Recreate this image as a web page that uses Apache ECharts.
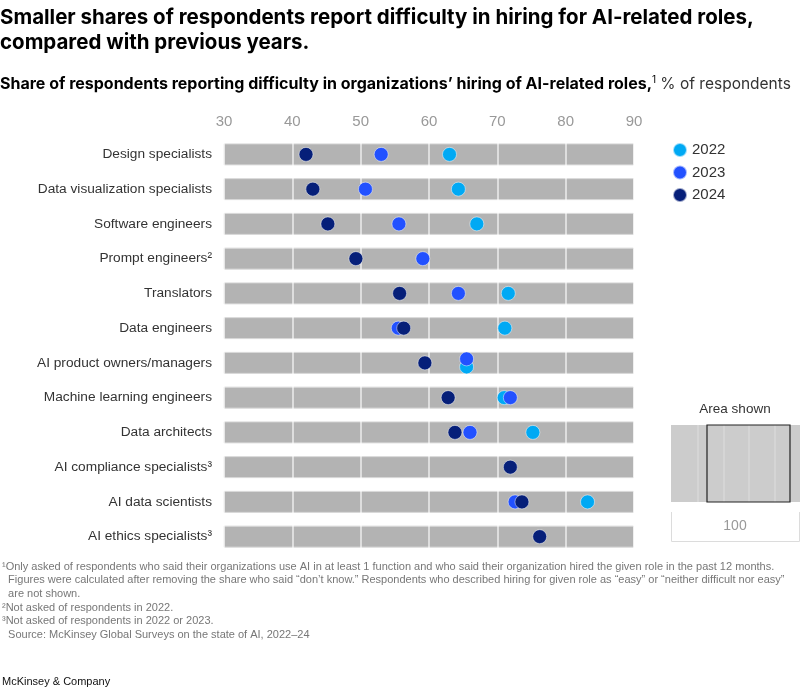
<!DOCTYPE html>
<html>
<head>
<meta charset="utf-8">
<script src="https://cdn.jsdelivr.net/npm/echarts@6/dist/echarts.min.js"></script>
<style>
  html, body { margin: 0; padding: 0; background: #fff; }
  #chart { width: 810px; height: 694px; }
</style>
</head>
<body>
<div id="chart"></div>
<script>
// 数据
const roles = [
  'Design specialists',
  'Data visualization specialists',
  'Software engineers',
  'Prompt engineers²',
  'Translators',
  'Data engineers',
  'AI product owners/managers',
  'Machine learning engineers',
  'Data architects',
  'AI compliance specialists³',
  'AI data scientists',
  'AI ethics specialists³'
];
const years = ['2022', '2023', '2024'];
const values2022 = [63, 64.3, 67, null, 71.6, 71.1, 65.5, 71, 75.2, null, 83.2, null];
const values2023 = [53, 50.7, 55.6, 59.1, 64.3, 55.5, 65.5, 71.9, 66, null, 72.6, null];
const values2024 = [42, 43, 45.2, 49.3, 55.7, 56.3, 59.4, 62.8, 63.8, 71.9, 73.6, 76.2];
const xTicks = [30, 40, 50, 60, 70, 80, 90];

var colors = ['#00a9f4', '#2251ff', '#061f79'];
// AI product owners 那一行两点重叠，上下错开一点
var nudge = { 6: { '2022': 4, '2023': -4 } };

var chartDom = document.getElementById('chart');
var myChart = echarts.init(chartDom);
var font = 'Liberation Sans, Arial, sans-serif';
var headFont = 'Inter, Liberation Sans, sans-serif';

function dots(vals, year) {
  let res = [];
  vals.forEach(function (v, i) {
    if (v == null) return;
    let item = { value: [v, i] };
    if (nudge[i] && nudge[i][year] != null) item.symbolOffset = [0, nudge[i][year]];
    res.push(item);
  });
  return res;
}

var footnotes = [
  '¹Only asked of respondents who said their organizations use AI in at least 1 function and who said their organization hired the given role in the past 12 months.',
  '  Figures were calculated after removing the share who said “don’t know.” Respondents who described hiring for given role as “easy” or “neither difficult nor easy”',
  '  are not shown.',
  '²Not asked of respondents in 2022.',
  '³Not asked of respondents in 2022 or 2023.',
  '  Source: McKinsey Global Surveys on the state of AI, 2022–24'
];

var option = {
  animation: false,
  textStyle: { fontFamily: font },
  title: [
    {
      text: 'Smaller shares of respondents report difficulty in hiring for AI-related roles,\ncompared with previous years.',
      left: 0,
      top: 5,
      padding: 0,
      textStyle: { fontSize: 20.5, fontWeight: 'bold', color: '#000', lineHeight: 25, fontFamily: headFont }
    },
    {
      text: '{b|Share of respondents reporting difficulty in organizations’ hiring of AI-related roles,}{s|1} {r|% of respondents}',
      left: 0,
      top: 75,
      padding: 0,
      textStyle: {
        fontFamily: headFont,
        rich: {
          b: { fontSize: 16, fontWeight: 'bold', color: '#000', fontFamily: headFont },
          s: { fontSize: 10, fontWeight: 'normal', color: '#000', verticalAlign: 'top', lineHeight: 14, fontFamily: headFont },
          r: { fontSize: 15.5, fontWeight: 'normal', color: '#333', fontFamily: headFont }
        }
      }
    }
  ],
  legend: {
    data: years,
    orient: 'vertical',
    left: 667,
    top: 137,
    itemWidth: 14,
    itemHeight: 14,
    itemGap: 6.5,
    icon: 'circle',
    textStyle: { fontSize: 15, color: '#333', fontFamily: font }
  },
  grid: {
    left: 224,
    right: 176,
    top: 137,
    bottom: 140,
    containLabel: false
  },
  xAxis: {
    type: 'value',
    position: 'top',
    min: 30,
    max: 90,
    interval: 10,
    z: 5,
    axisLine: { show: false },
    axisTick: { show: false },
    axisLabel: { color: '#999', fontSize: 15, margin: 8, fontFamily: font },
    splitLine: { show: true, lineStyle: { color: '#ffffff', width: 1.5, opacity: 0.75 } }
  },
  yAxis: {
    type: 'category',
    data: roles,
    inverse: true,
    axisLine: { show: false },
    axisTick: { show: false },
    axisLabel: { color: '#333', fontSize: 13.7, margin: 12, fontFamily: font }
  },
  graphic: [
    {
      type: 'text',
      left: 2,
      top: 560,
      style: {
        text: footnotes.join('\n'),
        fill: '#777',
        font: '11px ' + font,
        lineHeight: 13.6
      }
    },
    {
      type: 'text',
      left: 2,
      top: 676,
      style: { text: 'McKinsey & Company', fill: '#111', font: '11px ' + font }
    },
    // 右下角 Area shown 小图
    {
      type: 'text',
      x: 735,
      y: 402,
      style: { text: 'Area shown', fill: '#333', font: '13.5px ' + font, textAlign: 'center' }
    },
    { type: 'rect', shape: { x: 671, y: 425, width: 129, height: 77 }, style: { fill: '#cccccc' } },
    { type: 'line', shape: { x1: 698, y1: 425, x2: 698, y2: 502 }, style: { stroke: '#dedede', lineWidth: 1 } },
    { type: 'line', shape: { x1: 724, y1: 425, x2: 724, y2: 502 }, style: { stroke: '#dedede', lineWidth: 1 } },
    { type: 'line', shape: { x1: 749, y1: 425, x2: 749, y2: 502 }, style: { stroke: '#dedede', lineWidth: 1 } },
    { type: 'line', shape: { x1: 775, y1: 425, x2: 775, y2: 502 }, style: { stroke: '#dedede', lineWidth: 1 } },
    { type: 'rect', shape: { x: 707, y: 425, width: 83, height: 77 }, style: { fill: 'none', stroke: '#222', lineWidth: 1.2 } },
    {
      type: 'polyline',
      shape: { points: [[671.5, 512], [671.5, 541.5], [799.5, 541.5], [799.5, 512]] },
      style: { fill: 'none', stroke: '#dcdcdc', lineWidth: 1 }
    },
    {
      type: 'text',
      x: 735,
      y: 519,
      style: { text: '100', fill: '#999', font: '14px ' + font, textAlign: 'center' }
    }
  ],
  series: [
    {
      name: 'bg',
      type: 'bar',
      data: roles.map(function () { return xTicks[xTicks.length - 1]; }),
      barWidth: 22,
      z: 2,
      silent: true,
      itemStyle: { color: '#b3b3b3', borderColor: '#dadada', borderWidth: 1 }
    },
    {
      name: '2022',
      type: 'scatter',
      z: 10,
      symbolSize: 14,
      data: dots(values2022, '2022'),
      itemStyle: { color: colors[0], borderColor: 'rgba(255,255,255,0.6)', borderWidth: 0.8, opacity: 1 }
    },
    {
      name: '2023',
      type: 'scatter',
      z: 11,
      symbolSize: 14,
      data: dots(values2023, '2023'),
      itemStyle: { color: colors[1], borderColor: 'rgba(255,255,255,0.6)', borderWidth: 0.8, opacity: 1 }
    },
    {
      name: '2024',
      type: 'scatter',
      z: 12,
      symbolSize: 14,
      data: dots(values2024, '2024'),
      itemStyle: { color: colors[2], borderColor: 'rgba(255,255,255,0.6)', borderWidth: 0.8, opacity: 1 }
    }
  ]
};

option && myChart.setOption(option);
</script>
</body>
</html>
